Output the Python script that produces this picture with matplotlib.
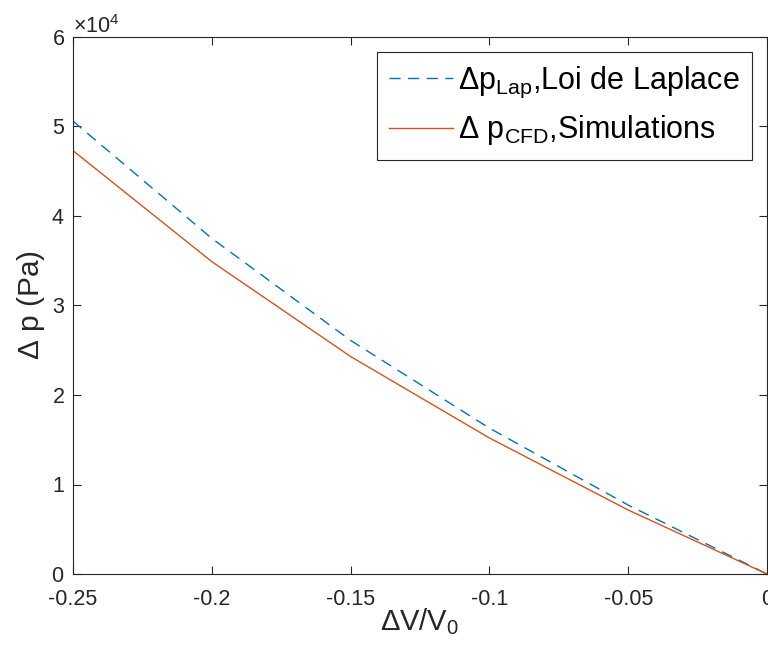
import numpy as np
import matplotlib
matplotlib.use("Agg")
import matplotlib.pyplot as plt
from matplotlib.ticker import ScalarFormatter

plt.rcParams['font.family'] = ['Liberation Sans', 'DejaVu Sans']
plt.rcParams['mathtext.fontset'] = 'custom'
plt.rcParams['mathtext.rm'] = 'Liberation Sans'
plt.rcParams['mathtext.it'] = 'Liberation Sans'
plt.rcParams['mathtext.default'] = 'regular'
plt.rcParams['axes.unicode_minus'] = False

# donnees
dV = [-0.25, -0.2, -0.15, -0.1, -0.05, 0.0]
dp_laplace = [50600, 37500, 26100, 16300, 7700, 0]
dp_cfd = [47300, 34900, 24300, 15200, 7150, 0]
xticks = [-0.25, -0.2, -0.15, -0.1, -0.05, 0]
xticklabels = ['-0.25', '-0.2', '-0.15', '-0.1', '-0.05', '0']
yticks = [0, 10000, 20000, 30000, 40000, 50000, 60000]

fig = plt.figure(figsize=(7.68, 6.55), dpi=100)
ax = fig.add_axes([73/768, 81/655, 694/768, 537/655])

blue = '#0072BD'
orange = '#D95319'
l1, = ax.plot(dV, dp_laplace, color=blue, lw=1.0, ls='--',
              label=r'$\Delta p_{Lap}$,Loi de Laplace')
l1.set_dashes([8, 5.4])
ax.plot(dV, dp_cfd, color=orange, lw=1.0,
        label=r'$\Delta$ $p_{CFD}$,Simulations')

ax.set_xlim(-0.25, 0)
ax.set_ylim(0, 60000)
ax.set_xticks(xticks)
ax.set_xticklabels(xticklabels)
ax.set_yticks(yticks)

fmt = ScalarFormatter(useMathText=True)
fmt.set_powerlimits((0, 0))
ax.yaxis.set_major_formatter(fmt)

for s in ax.spines.values():
    s.set_color('#262626')
    s.set_linewidth(0.8)
ax.tick_params(direction='in', length=6, width=0.8, colors='#262626',
               labelsize=15.5, top=True, right=True)
ax.tick_params(axis='x', pad=11)
ax.tick_params(axis='y', pad=6)
for lab in ax.get_xticklabels() + ax.get_yticklabels():
    lab.set_color('#262626')
ax.yaxis.get_offset_text().set_fontsize(15.5)
ax.yaxis.get_offset_text().set_color('#262626')

ax.set_xlabel(r'$\Delta V/V_0$', fontsize=21, color='#262626', labelpad=-3)
ax.set_ylabel(r'$\Delta$ p (Pa)', fontsize=21.5, color='#262626', labelpad=3)

leg = ax.legend(loc='upper right', fontsize=22, frameon=True, fancybox=False,
                framealpha=1, edgecolor='#262626', borderaxespad=0.5,
                handlelength=2.1, handletextpad=0.15, borderpad=0.4,
                labelspacing=0.45)
leg.get_frame().set_linewidth(0.8)

fig.savefig('out.png', dpi=100)
